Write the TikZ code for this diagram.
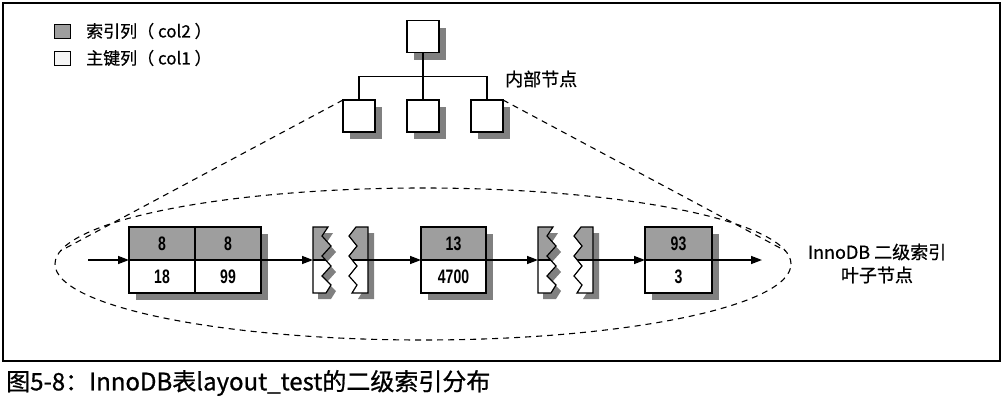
\documentclass[tikz,border=0pt]{standalone}
\usepackage{fontspec}
\setmainfont{Noto Sans CJK SC}
\newfontfamily\numfont{Liberation Sans}
\usetikzlibrary{arrows.meta,shapes.geometric}
\pgfdeclarelayer{paper}\pgfdeclarelayer{bg}\pgfsetlayers{paper,bg,main}
\definecolor{idxgray}{gray}{0.62}
\definecolor{shadowc}{gray}{0.5}
\newcommand\numtxt[1]{{\numfont\bfseries\fontsize{19.5}{19.5}\selectfont\scalebox{0.72}[1]{#1}}}
\newcommand\shadowof[1]{\fill[shadowc] ([shift={(7,7)}]#1.north west) rectangle ([shift={(7,7)}]#1.south east);}
\def\tornLpath{(313,227) -- (328,227) -- (322,236) -- (331,246) -- (322,256) -- (331,266) -- (322,276) -- (331,285) -- (326,293) -- (313,293) -- cycle}
\def\tornRpath{(356,227) -- (368,227) -- (368,293) -- (352,293) -- (357,285) -- (349,276) -- (357,266) -- (349,256) -- (357,246) -- (349,236) -- cycle}
\newcommand\tornpiece[1]{%
 \begin{scope}[xshift=#1pt]
  \begin{pgfonlayer}{bg}
   \fill[shadowc, shift={(5,6)}] \tornLpath;
   \fill[shadowc, shift={(6,6)}] \tornRpath;
  \end{pgfonlayer}
  \foreach \p in {\tornLpath,\tornRpath}{%
   \begin{scope}
    \clip \p;
    \fill[white] (300,220) rectangle (380,300);
    \fill[idxgray] (300,220) rectangle (380,260);
    \draw[line width=1.1pt] (300,260) -- (380,260);
   \end{scope}
   \draw[line width=1.2pt, line join=miter] \p;
  }
 \end{scope}}
\begin{document}
\begin{tikzpicture}[x=1pt,y=-1pt,
  tbox/.style={draw, line width=1.3pt, fill=white, minimum size=32pt, inner sep=0pt, outer sep=0pt},
  idxcell/.style={draw, line width=1.2pt, fill=idxgray, minimum width=#1, minimum height=33pt, inner sep=0pt, outer sep=0pt},
  keycell/.style={draw, line width=1.2pt, fill=white, minimum width=#1, minimum height=33pt, inner sep=0pt, outer sep=0pt},
  dashline/.style={line width=1.1pt, dash pattern=on 6pt off 5pt},
  arr/.style={line width=1.4pt, -{Triangle[length=11pt,width=8pt]}},
  lbl/.style={inner sep=0pt, font=\fontsize{18}{23}\selectfont\addfontfeature{FakeBold=0.6}}
 ]
\useasboundingbox (0,0) rectangle (1008,410);
\begin{pgfonlayer}{paper}
\fill[white] (0,0) rectangle (1008,410);
\end{pgfonlayer}
% frame
\draw[line width=1.5pt] (3,3) rectangle (1000,361);

% legend
\node[draw, line width=1pt, fill=idxgray, minimum width=16pt, minimum height=14pt, inner sep=0pt] (lg1) at (62,31) {};
\node[anchor=west, inner sep=0pt, font=\fontsize{17}{17}\selectfont\addfontfeature{FakeBold=0.6}] (lt1) at (86,31) {索引列（ col2 ）};
\node[draw, line width=1pt, fill=gray!8, minimum width=16pt, minimum height=14pt, inner sep=0pt] (lg2) at (62,58) {};
\node[anchor=west, inner sep=0pt, font=\fontsize{17}{17}\selectfont\addfontfeature{FakeBold=0.6}] (lt2) at (86,58) {主键列（ col1 ）};

% tree
\node[tbox] (root) at (423,36.5) {};
\node[tbox] (c1) at (359,116) {};
\node[tbox] (c2) at (423,116) {};
\node[tbox] (c3) at (487,116) {};
\begin{pgfonlayer}{bg}
 \shadowof{root}\shadowof{c1}\shadowof{c2}\shadowof{c3}
\end{pgfonlayer}
\draw[line width=1.2pt] (root.south) -- ++(0,24) coordinate (hub);
\draw[line width=1.2pt] (c1.north) |- (hub) -| (c3.north);
\draw[line width=1.2pt] (hub) -- (c2.north);
\node[lbl, anchor=west] (inner) at (505,79) {内部节点};

% leaf ellipse
\node[ellipse, draw, dashline, minimum width=736pt, minimum height=152pt, inner sep=0pt] (leafs) at (423,264) {};
\coordinate (eL) at (60.6,250.8);
\coordinate (eR) at (785.4,250.8);
\draw[dashline] (c1.north west) -- (eL);
\draw[dashline] (c3.north east) -- (eR);

% leaf page 1
\node[idxcell=66pt] (b1tl) at (162,243.5) {\numtxt{8}};
\node[idxcell=66pt] (b1tr) at (228,243.5) {\numtxt{8}};
\node[keycell=66pt] (b1bl) at (162,276.5) {\numtxt{18}};
\node[keycell=66pt] (b1br) at (228,276.5) {\numtxt{99}};
% leaf page 2
\node[idxcell=65pt] (b2t) at (453.5,243.5) {\numtxt{13}};
\node[keycell=65pt] (b2b) at (453.5,276.5) {\numtxt{4700}};
% leaf page 3
\node[idxcell=67pt] (b3t) at (678.5,243.5) {\numtxt{93}};
\node[keycell=67pt] (b3b) at (678.5,276.5) {\numtxt{3}};
\begin{pgfonlayer}{bg}
 \fill[shadowc] ([shift={(7,7)}]b1tl.north west) rectangle ([shift={(7,7)}]b1br.south east);
 \fill[shadowc] ([shift={(7,7)}]b2t.north west) rectangle ([shift={(7,7)}]b2b.south east);
 \fill[shadowc] ([shift={(7,7)}]b3t.north west) rectangle ([shift={(7,7)}]b3b.south east);
\end{pgfonlayer}

% torn pieces
\tornpiece{0}
\tornpiece{225}
\node[minimum width=55pt, minimum height=66pt, inner sep=0pt, outer sep=0pt] (t1) at (340.5,260) {};
\node[minimum width=55pt, minimum height=66pt, inner sep=0pt, outer sep=0pt] (t2) at (565.5,260) {};

% arrows
\coordinate (start) at (88,260);
\coordinate (stop) at (762,260);
\draw[arr] (start) -- (b1bl.north west);
\draw[arr] (b1br.north east) -- (t1.west);
\draw[arr] (t1.east) -- (b2b.north west);
\draw[arr] (b2b.north east) -- (t2.west);
\draw[arr] (t2.east) -- (b3b.north west);
\draw[arr] (b3b.north east) -- (stop);

\node[lbl, align=center] (leaflbl) at (877,263.5) {InnoDB 二级索引\\叶子节点};

% caption
\node[anchor=west, inner sep=0pt, font=\fontsize{24}{24}\selectfont\addfontfeature{FakeBold=0.8}] (cap) at (6,383) {图5-8：InnoDB表layout\_test的二级索引分布};
\end{tikzpicture}
\end{document}
